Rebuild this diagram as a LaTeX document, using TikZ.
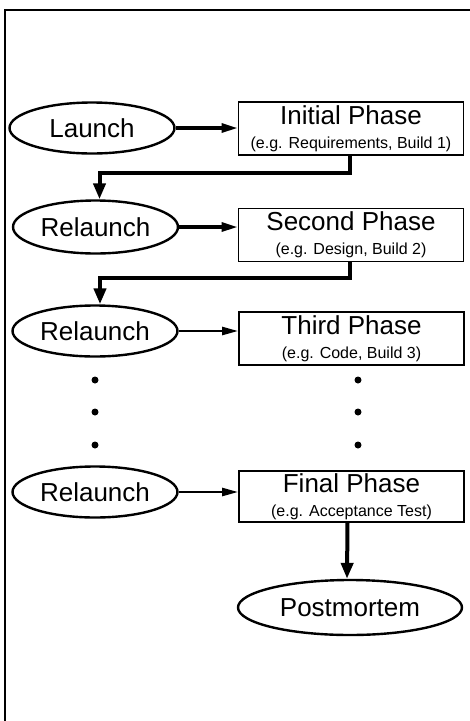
\documentclass[tikz,border=0pt]{standalone}
\usepackage{fontspec}
\setmainfont{Liberation Sans}
\usetikzlibrary{shapes.geometric,arrows.meta}
\begin{document}
\begin{tikzpicture}[x=1pt,y=-1pt,
  oval/.style={draw,ellipse,line width=2.4pt,minimum width=165pt,minimum height=51pt,inner sep=0pt,font=\fontsize{26}{30}\selectfont},
  phase/.style={draw,rectangle,line width=1.8pt,minimum width=225pt,minimum height=53pt,inner sep=0pt,align=center,font=\fontsize{16}{24}\selectfont},
  conn/.style={line width=4pt,-{Triangle[length=16pt,width=12pt]}},
  hconn/.style={line width=3.2pt,-{Triangle[length=16pt,width=9pt]}},
  hconnthin/.style={line width=2.4pt,-{Triangle[length=16pt,width=8pt]}},
  dotmark/.style={circle,fill,inner sep=0pt,minimum size=7pt}
]
\useasboundingbox (0,0) rectangle (470,721);
\draw[line width=1.8pt] (5,721) -- (5,10) -- (470,10);

\newcommand{\phasetext}[2]{{\fontsize{26}{24}\selectfont #1}\\#2}

\node[oval] (launch) at (92,128) {Launch};
\node[phase] (init) at (351,128.5) {\phasetext{Initial Phase}{(e.g. Requirements, Build 1)}};
\node[oval,minimum height=53pt] (rl1) at (95.5,227) {Relaunch};
\node[phase] (second) at (351,235) {\phasetext{Second Phase}{(e.g. Design, Build 2)}};
\node[oval] (rl2) at (95,331) {Relaunch};
\node[phase] (third) at (351.5,338.5) {\phasetext{Third Phase}{(e.g. Code, Build 3)}};
\node[oval] (rl3) at (95,492) {Relaunch};
\node[phase,minimum height=51pt] (final) at (351.5,496.5) {\phasetext{Final Phase}{(e.g. Acceptance Test)}};
\node[oval,minimum width=224pt,minimum height=55pt] (post) at (350,607.5) {Postmortem};

\foreach \y [count=\i] in {380,412,445} {
  \node[dotmark] (ld\i) at (95,\y) {};
  \node[dotmark] (rd\i) at (358,\y) {};
}

\draw[hconn] (launch.east) -- (init.west |- launch.east);
\draw[hconn] (rl1.east) -- (second.west |- rl1.east);
\draw[hconnthin] (rl2.east) -- (third.west |- rl2.east);
\draw[hconnthin] (rl3.east) -- (final.west |- rl3.east);

\coordinate (t1) at ([xshift=-1pt]init.south);
\coordinate (t2) at ([xshift=-1pt]second.south);
\coordinate (b1) at ([xshift=4pt]rl1.north);
\coordinate (b2) at ([xshift=5pt]rl2.north);
\draw[conn] (t1) -- ++(0,17) -| (b1);
\draw[conn] (t2) -- ++(0,16) -| (b2);
\draw[conn] ([xshift=-4pt]final.south) -- ([xshift=-3pt]post.north);
\end{tikzpicture}
\end{document}
